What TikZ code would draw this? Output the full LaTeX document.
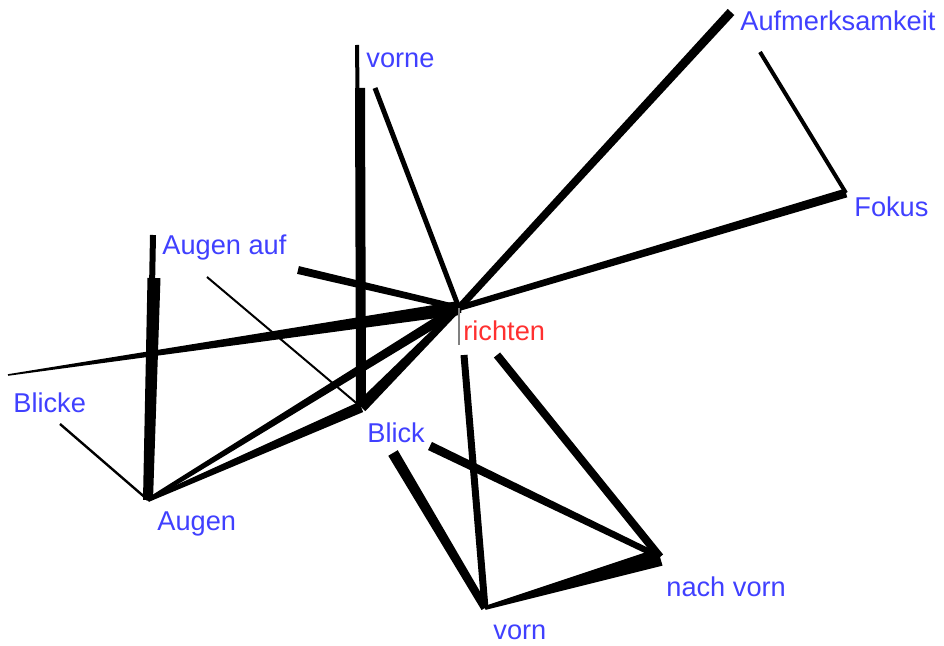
\documentclass[tikz,border=0pt]{standalone}
\usepackage{fontspec}
\setmainfont{Liberation Sans}
\usetikzlibrary{calc}
\definecolor{wortblau}{RGB}{64,64,255}
\definecolor{wortrot}{RGB}{255,48,48}
\newcommand{\keil}[4]{\fill ($(#1)!#3!90:(#2)$) -- ($(#1)!#3!-90:(#2)$) -- ($(#2)!#4!90:(#1)$) -- ($(#2)!#4!-90:(#1)$) -- cycle;}

\begin{document}
\begin{tikzpicture}[x=0.5pt,y=-0.5pt,
		wort/.style={text=wortblau,anchor=base west,inner sep=0pt,font=\fontsize{13.6}{16}\selectfont},
		kern/.style={wort,text=wortrot}]
			\useasboundingbox (0,0) rectangle (944,646);
			\coordinate (vorne) at (357,45);
			\coordinate (aufm) at (731,12);
			\coordinate (fokus) at (846,193);
			\coordinate (augenauf) at (153,235);
			\coordinate (richten) at (459,308);
			\coordinate (blicke) at (8,375);
			\coordinate (blick) at (361,407);
			\coordinate (augen) at (148,500);
			\coordinate (vorn) at (485,608);
			\coordinate (nachvorn) at (660,557);
			\coordinate (vorne-aus) at (375,88);
			\coordinate (vorne-mitte) at (360,88);
			\coordinate (aufm-aus) at (760,52);
			\coordinate (augenauf-a) at (298,270);
			\coordinate (augenauf-b) at (207,277);
			\coordinate (augenauf-mitte) at (154,278);
			\coordinate (blicke-aus) at (60,424);
			\coordinate (richten-a) at (464,355);
			\coordinate (richten-b) at (497,355);
			\coordinate (richten-tick) at (459,345);
			\coordinate (blick-a) at (393,453);
			\coordinate (blick-b) at (430,446);
			\node[wort] (l-aufm) at (740,31) {Aufmerksamkeit};
			\node[wort] (l-vorne) at (366,68) {vorne};
			\node[wort] (l-fokus) at (854,217) {Fokus};
			\node[wort] (l-augenauf) at (162,255) {Augen auf};
			\node[kern] (l-richten) at (463,341) {richten};
			\node[wort] (l-blicke) at (13,413) {Blicke};
			\node[wort] (l-blick) at (367,443) {Blick};
			\node[wort] (l-augen) at (157,531) {Augen};
			\node[wort] (l-nachvorn) at (666,597) {nach vorn};
			\node[wort] (l-vorn) at (493,640) {vorn};
			\draw[line width=2pt] (vorne) -- (blick);
			\keil{vorne-mitte}{blick}{2.5pt}{2.5pt}
			\draw[line width=3pt] (augenauf) -- (augen);
			\keil{augenauf-mitte}{augen}{3.25pt}{2.5pt}
			\keil{blicke}{richten}{0.4pt}{3.5pt}
			\keil{augen}{richten}{1pt}{2.5pt}
			\keil{augen}{blick}{1pt}{2.75pt}
			\keil{blick}{richten}{3pt}{1.5pt}
			\keil{augenauf-a}{richten}{2pt}{1.5pt}
			\draw[line width=1pt] (augenauf-b) -- (blick);
			\draw[line width=1.2pt] (blicke-aus) -- (augen);
			\draw[line width=2.5pt] (vorne-aus) -- (richten);
			\keil{richten}{aufm}{1.75pt}{2.25pt}
			\draw[line width=2pt] (aufm-aus) -- (fokus);
			\keil{richten}{fokus}{1.5pt}{2.25pt}
			\draw[line width=3.5pt] (richten-a) -- (vorn);
			\draw[line width=4pt] (richten-b) -- (nachvorn);
			\keil{blick-a}{vorn}{2.75pt}{2pt}
			\keil{blick-b}{nachvorn}{2.25pt}{1.5pt}
			\keil{vorn}{nachvorn}{1pt}{4.5pt}
			\draw[gray,line width=0.6pt] (richten) -- (richten-tick);
		\end{tikzpicture}
\end{document}
